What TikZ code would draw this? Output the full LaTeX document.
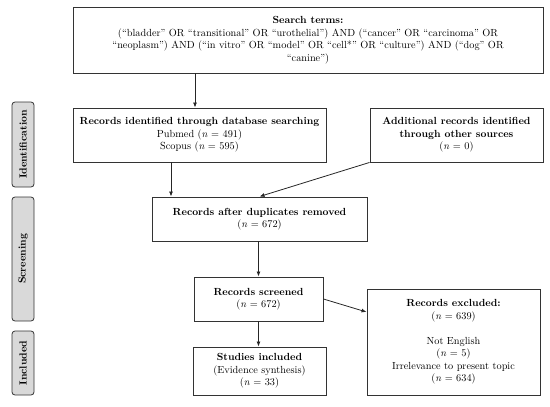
\documentclass[tikz,border=0pt]{standalone}
\usepackage{tikz}
\usetikzlibrary{arrows.meta,positioning}

\begin{document}
\begin{tikzpicture}[
    x=1pt, y=-1pt,
    every node/.style={font=\fontsize{10.3}{12.5}\selectfont},
    box/.style={rectangle, draw=black!80, line width=0.9pt, fill=white, align=center, inner sep=2pt},
    phase/.style={rectangle, rounded corners=3pt, draw=black!80, line width=0.8pt, fill=black!15, rotate=90, minimum height=22, font=\fontsize{10.3}{12}\selectfont\bfseries},
    arrow/.style={-{Latex[length=5pt,width=4pt]}, line width=0.8pt, draw=black!85}
]
\useasboundingbox (0,0) rectangle (550,407);

% Phase Labels
\node[phase, minimum width=85] (ident) at (23,144.5) {Identification};
\node[phase, minimum width=124] (screen) at (23,259) {Screening};
\node[phase, minimum width=64] (incl) at (23,363) {Included};

% Flow Boxes
\node[box, minimum width=470, minimum height=66] (search) at (308,40) {\textbf{Search terms:}\\
    (``bladder'' OR ``transitional'' OR ``urothelial'') AND (``cancer'' OR ``carcinoma'' OR\\
    ``neoplasm'') AND (``in vitro'' OR ``model'' OR ``cell*'' OR ``culture'') AND (``dog'' OR\\
    ``canine'')};
\node[box, minimum width=253, minimum height=54] (records) at (199.5,135) {\textbf{Records identified through database searching}\\
    Pubmed (\textit{n} = 491)\\ Scopus (\textit{n} = 595)};
\node[box, minimum width=173, minimum height=54] (extra) at (456.5,135) {\textbf{Additional records identified}\\
    \textbf{through other sources}\\ (\textit{n} = 0)};
\node[box, minimum width=215, minimum height=44] (dups) at (259.5,219) {\textbf{Records after duplicates removed}\\ (\textit{n} = 672)};
\node[box, minimum width=129, minimum height=44] (screened) at (258.5,299) {\textbf{Records screened}\\ (\textit{n} = 672)};
\node[box, minimum width=173, minimum height=106] (excluded) at (453.5,342) {\textbf{Records excluded:}\\ (\textit{n} = 639)\\[12.5pt]
    Not English\\ (\textit{n} = 5)\\ Irrelevance to present topic\\ (\textit{n} = 634)};
\node[box, minimum width=133, minimum height=48] (studies) at (259.5,371) {\textbf{Studies included}\\ (Evidence synthesis)\\ (\textit{n} = 33)};

% Flow Edges
\draw[arrow] ([xshift=-4.5]records.north |- search.south) -- ([xshift=-4.5]records.north);
\draw[arrow] ([xshift=-28.5]records.south) -- ([xshift=-28.5]records.south |- dups.north);
\draw[arrow] (extra.south west) -- (dups.north);
\draw[arrow] (dups.south -| screened.north) -- (screened.north);
\draw[arrow] (screened.south) -- (screened.south |- studies.north);
\draw[arrow] (screened.east) -- ([yshift=30]excluded.west);

\end{tikzpicture}
\end{document}
